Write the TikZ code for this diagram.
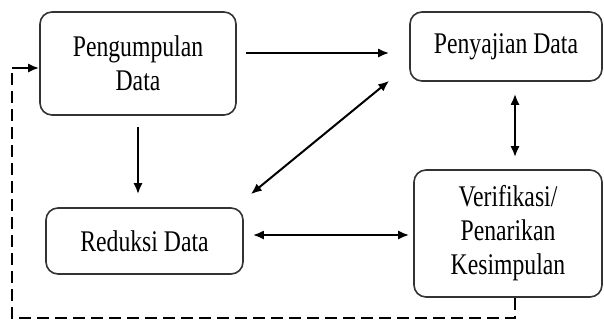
\documentclass[tikz,border=0pt]{standalone}
\usepackage{fontspec}
\newfontfamily\boxfont{Liberation Serif}[FakeStretch=0.79]
\usetikzlibrary{arrows.meta}
\usetikzlibrary{calc}
\tikzstyle{stage}=[rectangle,rounded corners=12pt,draw=black!80,line width=1.6pt,fill=white,align=center,inner sep=0pt,font=\boxfont\fontsize{30}{34}\selectfont]
\tikzstyle{edge} = [draw,line width=2pt,-{Latex[length=11pt,width=9pt]}]
\tikzstyle{twoway} = [draw,line width=2pt,{Latex[length=11pt,width=9pt]}-{Latex[length=11pt,width=9pt]}]
\tikzstyle{loopline} = [draw,line width=2pt,dash pattern=on 12pt off 6pt]

\begin{document}
\begin{tikzpicture}[x=1pt,y=-1pt]
  \useasboundingbox (0,0) rectangle (604,322);

   \foreach \x/\y/\w/\h/\name/\txt in {138/63.5/196/103/peng/{Pengumpulan\\Data}, 506/46.5/192/69/peny/{Penyajian Data}, 144.5/241/197/66/redu/{Reduksi Data}, 508/233.5/188/127/veri/{Verifikasi/\\Penarikan\\Kesimpulan}}
          \node[stage,minimum width=\w pt,minimum height=\h pt] (\name) at (\x,\y) {\txt};

  \coordinate (pv) at ([xshift=9pt]peny.south);
  \coordinate (loopstart) at ([xshift=7pt]veri.south);
  \coordinate (loopcorner) at (12,318);
  \coordinate (loopend) at (12,68);

  \path[edge,shorten <=9pt,shorten >=20pt] (peng.east |- 0,53) -- (peny.west |- 0,53);
  \path[edge,shorten <=11pt,shorten >=13pt] (peng.south) -- (peng.south |- redu.north);
  \path[twoway] ($(peny.south west)+(-20,-1)$) -- ($(redu.north east)+(7,-13)$);
  \path[twoway,shorten <=12pt,shorten >=12pt] (pv) -- (pv |- veri.north);
  \path[twoway,shorten <=9pt,shorten >=4pt] (redu.east |- 0,235) -- (veri.west |- 0,235);

  \path[loopline] (loopstart) |- (loopcorner) -- (loopend);
  \path[edge] (loopend) -- (loopend -| peng.west);

\end{tikzpicture}
\end{document}
